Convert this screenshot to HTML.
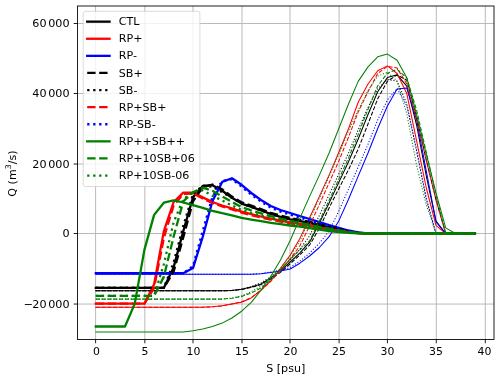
<!DOCTYPE html>
<html lang="en"><head><meta charset="utf-8"><title>Q vs S</title>
<style>html,body{margin:0;padding:0;background:#fff}body{width:500px;height:379px;overflow:hidden}svg{display:block}</style>
</head><body>
<svg width="500" height="379" viewBox="0 0 500 379">
<rect x="0" y="0" width="500" height="379" fill="#fff"/>
<g stroke="#b0b0b0" stroke-width="0.88">
<line x1="95.60" y1="6.0" x2="95.60" y2="339.45"/>
<line x1="144.85" y1="6.0" x2="144.85" y2="339.45"/>
<line x1="193.00" y1="6.0" x2="193.00" y2="339.45"/>
<line x1="242.00" y1="6.0" x2="242.00" y2="339.45"/>
<line x1="290.00" y1="6.0" x2="290.00" y2="339.45"/>
<line x1="339.10" y1="6.0" x2="339.10" y2="339.45"/>
<line x1="387.40" y1="6.0" x2="387.40" y2="339.45"/>
<line x1="436.30" y1="6.0" x2="436.30" y2="339.45"/>
<line x1="485.30" y1="6.0" x2="485.30" y2="339.45"/>
<line x1="77.5" y1="304.05" x2="494.0" y2="304.05"/>
<line x1="77.5" y1="233.50" x2="494.0" y2="233.50"/>
<line x1="77.5" y1="164.05" x2="494.0" y2="164.05"/>
<line x1="77.5" y1="93.50" x2="494.0" y2="93.50"/>
<line x1="77.5" y1="23.50" x2="494.0" y2="23.50"/>
</g>
<clipPath id="c"><rect x="77.5" y="6.0" width="416.5" height="333.45"/></clipPath>
<g clip-path="url(#c)">
<polyline points="95.8,287.9 105.5,287.9 115.2,287.9 125.0,287.9 134.7,287.9 144.4,287.9 154.1,287.9 163.8,287.9 173.6,267.4 183.3,231.1 193.0,197.2 202.7,185.9 212.4,185.2 222.2,190.8 231.9,197.8 241.6,203.6 251.3,206.9 261.0,210.4 270.8,214.0 280.5,216.9 290.2,219.3 299.9,221.2 309.6,223.0 319.4,225.3 329.1,227.6 338.8,229.7 348.5,231.6 358.2,232.9 368.0,233.5 377.7,233.5 387.4,233.5 397.1,233.5 406.8,233.5 416.6,233.5 426.3,233.5 436.0,233.5 445.7,233.5 455.4,233.5 465.2,233.5 474.9,233.5" fill="none" stroke="#000000" stroke-width="2.3" stroke-linejoin="round" stroke-linecap="square"/>
<polyline points="95.8,290.7 105.5,290.7 115.2,290.7 125.0,290.7 134.7,290.7 144.4,290.7 154.1,290.7 163.8,290.7 173.6,290.7 183.3,290.7 193.0,290.7 202.7,290.7 212.4,290.7 222.2,290.7 231.9,290.4 241.6,289.3 251.3,287.1 261.0,284.0 270.8,277.9 280.5,270.9 290.2,262.0 299.9,252.8 309.6,242.2 319.4,223.0 329.1,203.1 338.8,182.4 348.5,161.8 358.2,139.0 368.0,114.5 377.7,91.8 387.4,77.6 397.1,74.8 406.8,86.2 416.6,125.0 426.3,175.8 436.0,221.2 445.7,233.5 455.4,233.5 465.2,233.5 474.9,233.5" fill="none" stroke="#000000" stroke-width="1.05" stroke-linejoin="round" stroke-linecap="square"/>
<polyline points="95.8,303.7 105.5,303.7 115.2,303.7 125.0,303.7 134.7,303.7 144.4,303.7 154.1,284.2 163.8,231.4 173.6,202.0 183.3,192.6 193.0,192.6 202.7,197.4 212.4,202.0 222.2,205.5 231.9,208.3 241.6,211.6 251.3,214.2 261.0,216.5 270.8,218.6 280.5,220.6 290.2,222.3 299.9,223.9 309.6,225.8 319.4,227.6 329.1,229.1 338.8,230.7 348.5,232.1 358.2,233.1 368.0,233.5 377.7,233.5 387.4,233.5 397.1,233.5 406.8,233.5 416.6,233.5 426.3,233.5 436.0,233.5 445.7,233.5 455.4,233.5 465.2,233.5 474.9,233.5" fill="none" stroke="#ff0000" stroke-width="2.3" stroke-linejoin="round" stroke-linecap="square"/>
<polyline points="95.8,307.2 105.5,307.2 115.2,307.2 125.0,307.2 134.7,307.2 144.4,307.2 154.1,307.2 163.8,307.2 173.6,307.2 183.3,307.2 193.0,307.2 202.7,307.2 212.4,306.8 222.2,305.8 231.9,304.0 241.6,302.3 251.3,297.9 261.0,290.2 270.8,280.8 280.5,268.3 290.2,255.0 299.9,238.4 309.6,217.8 319.4,196.4 329.1,175.1 338.8,152.3 348.5,128.8 358.2,102.2 368.0,84.0 377.7,70.8 387.4,65.9 397.1,73.5 406.8,93.6 416.6,140.8 426.3,188.0 436.0,225.4 445.7,233.5 455.4,233.5 465.2,233.5 474.9,233.5" fill="none" stroke="#ff0000" stroke-width="1.05" stroke-linejoin="round" stroke-linecap="square"/>
<polyline points="95.8,273.2 105.5,273.2 115.2,273.2 125.0,273.2 134.7,273.2 144.4,273.2 154.1,273.2 163.8,273.2 173.6,273.2 183.3,273.2 193.0,268.1 202.7,237.0 212.4,201.3 222.2,181.9 231.9,178.2 241.6,184.8 251.3,193.0 261.0,200.0 270.8,206.0 280.5,210.0 290.2,213.0 299.9,216.0 309.6,219.0 319.4,222.0 329.1,225.0 338.8,227.9 348.5,230.5 358.2,232.4 368.0,233.5 377.7,233.5 387.4,233.5 397.1,233.5 406.8,233.5 416.6,233.5 426.3,233.5 436.0,233.5 445.7,233.5 455.4,233.5 465.2,233.5 474.9,233.5" fill="none" stroke="#0000ff" stroke-width="2.3" stroke-linejoin="round" stroke-linecap="square"/>
<polyline points="95.8,274.3 105.5,274.3 115.2,274.3 125.0,274.3 134.7,274.3 144.4,274.3 154.1,274.3 163.8,274.3 173.6,274.3 183.3,274.3 193.0,274.3 202.7,274.3 212.4,274.3 222.2,274.3 231.9,274.3 241.6,274.3 251.3,274.3 261.0,273.8 270.8,272.4 280.5,270.9 290.2,269.0 299.9,263.2 309.6,256.0 319.4,247.5 329.1,236.7 338.8,220.9 348.5,199.2 358.2,176.1 368.0,153.0 377.7,128.5 387.4,106.0 397.1,89.0 406.8,88.0 416.6,119.8 426.3,171.2 436.0,221.9 445.7,233.5 455.4,233.5 465.2,233.5 474.9,233.5" fill="none" stroke="#0000ff" stroke-width="1.05" stroke-linejoin="round" stroke-linecap="square"/>
<polyline points="95.8,287.9 105.5,287.9 115.2,287.9 125.0,287.9 134.7,287.9 144.4,287.9 154.1,287.9 163.8,287.9 173.6,271.6 183.3,237.3 193.0,201.3 202.7,187.3 212.4,184.5 222.2,189.4 231.9,196.6 241.6,202.3 251.3,205.7 261.0,209.2 270.8,212.8 280.5,215.7 290.2,218.1 299.9,220.0 309.6,221.8 319.4,224.1 329.1,226.3 338.8,228.4 348.5,231.6 358.2,232.9 368.0,233.5 377.7,233.5 387.4,233.5 397.1,233.5 406.8,233.5 416.6,233.5 426.3,233.5 436.0,233.5 445.7,233.5 455.4,233.5 465.2,233.5 474.9,233.5" fill="none" stroke="#000000" stroke-width="2.3" stroke-linejoin="round" stroke-linecap="butt" stroke-dasharray="8.36 3.62"/>
<polyline points="95.8,290.7 105.5,290.7 115.2,290.7 125.0,290.7 134.7,290.7 144.4,290.7 154.1,290.7 163.8,290.7 173.6,290.7 183.3,290.7 193.0,290.7 202.7,290.7 212.4,290.7 222.2,290.7 231.9,290.6 241.6,289.5 251.3,287.4 261.0,284.6 270.8,279.0 280.5,272.4 290.2,263.9 299.9,254.8 309.6,245.1 319.4,228.2 329.1,207.9 338.8,188.7 348.5,169.8 358.2,149.1 368.0,124.0 377.7,98.8 387.4,81.2 397.1,74.9 406.8,80.2 416.6,117.0 426.3,160.0 436.0,199.6 445.7,233.5 455.4,233.5 465.2,233.5 474.9,233.5" fill="none" stroke="#000000" stroke-width="1.05" stroke-linejoin="round" stroke-linecap="butt" stroke-dasharray="4.06 1.76"/>
<polyline points="95.8,287.9 105.5,287.9 115.2,287.9 125.0,287.9 134.7,287.9 144.4,287.9 154.1,287.9 163.8,287.9 173.6,262.6 183.3,225.8 193.0,194.3 202.7,185.6 212.4,186.6 222.2,192.2 231.9,197.8 241.6,203.6 251.3,206.9 261.0,210.4 270.8,214.0 280.5,216.9 290.2,219.3 299.9,221.2 309.6,223.0 319.4,225.3 329.1,227.6 338.8,229.7 348.5,231.6 358.2,232.9 368.0,233.5 377.7,233.5 387.4,233.5 397.1,233.5 406.8,233.5 416.6,233.5 426.3,233.5 436.0,233.5 445.7,233.5 455.4,233.5 465.2,233.5 474.9,233.5" fill="none" stroke="#000000" stroke-width="2.3" stroke-linejoin="round" stroke-linecap="butt" stroke-dasharray="2.26 3.73"/>
<polyline points="95.8,290.7 105.5,290.7 115.2,290.7 125.0,290.7 134.7,290.7 144.4,290.7 154.1,290.7 163.8,290.7 173.6,290.7 183.3,290.7 193.0,290.7 202.7,290.7 212.4,290.7 222.2,290.7 231.9,290.4 241.6,289.1 251.3,286.5 261.0,283.0 270.8,276.7 280.5,269.2 290.2,259.8 299.9,249.2 309.6,235.9 319.4,215.3 329.1,194.7 338.8,174.0 348.5,153.0 358.2,129.9 368.0,107.5 377.7,88.9 387.4,79.5 397.1,81.2 406.8,104.0 416.6,151.2 426.3,199.2 436.0,233.5 445.7,233.5 455.4,233.5 465.2,233.5 474.9,233.5" fill="none" stroke="#000000" stroke-width="1.05" stroke-linejoin="round" stroke-linecap="butt" stroke-dasharray="1.10 1.81"/>
<polyline points="95.8,303.7 105.5,303.7 115.2,303.7 125.0,303.7 134.7,303.7 144.4,303.7 154.1,287.8 163.8,238.1 173.6,205.5 183.3,193.9 193.0,193.5 202.7,198.4 212.4,203.0 222.2,206.5 231.9,209.3 241.6,212.6 251.3,215.2 261.0,217.5 270.8,219.6 280.5,221.5 290.2,223.3 299.9,224.9 309.6,225.8 319.4,227.6 329.1,229.1 338.8,230.7 348.5,232.1 358.2,233.1 368.0,233.5 377.7,233.5 387.4,233.5 397.1,233.5 406.8,233.5 416.6,233.5 426.3,233.5 436.0,233.5 445.7,233.5 455.4,233.5 465.2,233.5 474.9,233.5" fill="none" stroke="#ff0000" stroke-width="2.3" stroke-linejoin="round" stroke-linecap="butt" stroke-dasharray="8.36 3.62"/>
<polyline points="95.8,307.2 105.5,307.2 115.2,307.2 125.0,307.2 134.7,307.2 144.4,307.2 154.1,307.2 163.8,307.2 173.6,307.2 183.3,307.2 193.0,307.2 202.7,307.2 212.4,306.8 222.2,305.9 231.9,303.9 241.6,301.8 251.3,297.6 261.0,290.2 270.8,281.4 280.5,270.2 290.2,258.7 299.9,245.8 309.6,225.8 319.4,204.4 329.1,182.8 338.8,161.1 348.5,137.2 358.2,112.0 368.0,91.8 377.7,73.5 387.4,66.3 397.1,68.1 406.8,83.9 416.6,118.7 426.3,160.7 436.0,199.9 445.7,233.5 455.4,233.5 465.2,233.5 474.9,233.5" fill="none" stroke="#ff0000" stroke-width="1.05" stroke-linejoin="round" stroke-linecap="butt" stroke-dasharray="4.06 1.76"/>
<polyline points="95.8,273.2 105.5,273.2 115.2,273.2 125.0,273.2 134.7,273.2 144.4,273.2 154.1,273.2 163.8,273.2 173.6,273.2 183.3,273.2 193.0,266.1 202.7,231.1 212.4,196.8 222.2,181.0 231.9,179.2 241.6,186.6 251.3,194.7 261.0,201.7 270.8,207.6 280.5,211.6 290.2,214.6 299.9,217.6 309.6,220.6 319.4,223.3 329.1,226.2 338.8,228.9 348.5,231.2 358.2,232.8 368.0,233.5 377.7,233.5 387.4,233.5 397.1,233.5 406.8,233.5 416.6,233.5 426.3,233.5 436.0,233.5 445.7,233.5 455.4,233.5 465.2,233.5 474.9,233.5" fill="none" stroke="#0000ff" stroke-width="2.3" stroke-linejoin="round" stroke-linecap="butt" stroke-dasharray="2.26 3.73"/>
<polyline points="95.8,274.3 105.5,274.3 115.2,274.3 125.0,274.3 134.7,274.3 144.4,274.3 154.1,274.3 163.8,274.3 173.6,274.3 183.3,274.3 193.0,274.3 202.7,274.3 212.4,274.3 222.2,274.3 231.9,274.3 241.6,274.3 251.3,274.3 261.0,273.6 270.8,272.0 280.5,270.2 290.2,267.4 299.9,261.1 309.6,253.1 319.4,243.2 329.1,231.1 338.8,211.1 348.5,189.1 358.2,167.0 368.0,144.2 377.7,119.8 387.4,100.0 397.1,88.6 406.8,105.8 416.6,149.5 426.3,198.5 436.0,233.5 445.7,233.5 455.4,233.5 465.2,233.5 474.9,233.5" fill="none" stroke="#0000ff" stroke-width="1.05" stroke-linejoin="round" stroke-linecap="butt" stroke-dasharray="1.10 1.81"/>
<polyline points="95.8,326.5 105.5,326.5 115.2,326.5 125.0,326.5 134.7,303.9 144.4,249.9 154.1,214.9 163.8,202.7 173.6,200.4 183.3,202.5 193.0,205.2 202.7,207.9 212.4,210.8 222.2,213.2 231.9,215.3 241.6,217.8 251.3,219.6 261.0,221.2 270.8,222.8 280.5,224.2 290.2,225.5 299.9,226.7 309.6,228.2 319.4,229.7 329.1,231.0 338.8,232.1 348.5,232.9 358.2,233.3 368.0,233.5 377.7,233.5 387.4,233.5 397.1,233.5 406.8,233.5 416.6,233.5 426.3,233.5 436.0,233.5 445.7,233.5 455.4,233.5 465.2,233.5 474.9,233.5" fill="none" stroke="#008000" stroke-width="2.3" stroke-linejoin="round" stroke-linecap="square"/>
<polyline points="95.8,332.0 105.5,332.0 115.2,332.0 125.0,332.0 134.7,332.0 144.4,332.0 154.1,332.0 163.8,332.0 173.6,332.0 183.3,332.0 193.0,330.8 202.7,329.0 212.4,326.6 222.2,323.1 231.9,318.0 241.6,311.2 251.3,302.4 261.0,290.2 270.8,276.2 280.5,260.1 290.2,240.5 299.9,218.1 309.6,196.4 319.4,175.1 329.1,153.0 338.8,128.5 348.5,104.0 358.2,81.4 368.0,66.9 377.7,56.8 387.4,54.1 397.1,60.2 406.8,77.8 416.6,114.5 426.3,154.4 436.0,192.9 445.7,227.9 455.4,233.5 465.2,233.5 474.9,233.5" fill="none" stroke="#008000" stroke-width="1.05" stroke-linejoin="round" stroke-linecap="square"/>
<polyline points="95.8,295.8 105.5,295.8 115.2,295.8 125.0,295.8 134.7,295.8 144.4,295.8 154.1,295.8 163.8,276.9 173.6,236.7 183.3,201.3 193.0,192.2 202.7,187.7 212.4,190.8 222.2,196.4 231.9,202.0 241.6,207.1 251.3,210.4 261.0,213.4 270.8,216.2 280.5,218.6 290.2,220.9 299.9,223.0 309.6,224.9 319.4,226.8 329.1,228.6 338.8,230.3 348.5,231.9 358.2,233.0 368.0,233.5 377.7,233.5 387.4,233.5 397.1,233.5 406.8,233.5 416.6,233.5 426.3,233.5 436.0,233.5 445.7,233.5 455.4,233.5 465.2,233.5 474.9,233.5" fill="none" stroke="#008000" stroke-width="2.3" stroke-linejoin="round" stroke-linecap="butt" stroke-dasharray="8.36 3.62"/>
<polyline points="95.8,299.1 105.5,299.1 115.2,299.1 125.0,299.1 134.7,299.1 144.4,299.1 154.1,299.1 163.8,299.1 173.6,299.1 183.3,299.1 193.0,299.1 202.7,299.1 212.4,299.1 222.2,299.1 231.9,298.2 241.6,296.5 251.3,293.0 261.0,288.0 270.8,280.0 280.5,269.9 290.2,259.0 299.9,249.9 309.6,240.8 319.4,220.9 329.1,200.2 338.8,179.2 348.5,157.9 358.2,134.4 368.0,109.2 377.7,85.8 387.4,73.2 397.1,69.3 406.8,77.8 416.6,110.0 426.3,152.3 436.0,195.0 445.7,233.5 455.4,233.5 465.2,233.5 474.9,233.5" fill="none" stroke="#008000" stroke-width="1.05" stroke-linejoin="round" stroke-linecap="butt" stroke-dasharray="4.06 1.76"/>
<polyline points="95.8,295.8 105.5,295.8 115.2,295.8 125.0,295.8 134.7,295.8 144.4,295.8 154.1,295.8 163.8,264.3 173.6,222.3 183.3,199.2 193.0,192.2 202.7,190.4 212.4,195.7 222.2,200.6 231.9,205.5 241.6,209.9 251.3,213.0 261.0,215.7 270.8,218.1 280.5,220.2 290.2,222.1 299.9,224.1 309.6,225.8 319.4,227.6 329.1,229.1 338.8,230.7 348.5,232.1 358.2,233.1 368.0,233.5 377.7,233.5 387.4,233.5 397.1,233.5 406.8,233.5 416.6,233.5 426.3,233.5 436.0,233.5 445.7,233.5 455.4,233.5 465.2,233.5 474.9,233.5" fill="none" stroke="#008000" stroke-width="2.3" stroke-linejoin="round" stroke-linecap="butt" stroke-dasharray="2.26 3.73"/>
<polyline points="95.8,299.1 105.5,299.1 115.2,299.1 125.0,299.1 134.7,299.1 144.4,299.1 154.1,299.1 163.8,299.1 173.6,299.1 183.3,299.1 193.0,299.1 202.7,299.1 212.4,299.1 222.2,299.1 231.9,298.1 241.6,296.0 251.3,291.6 261.0,286.0 270.8,277.9 280.5,268.1 290.2,255.9 299.9,241.2 309.6,219.8 319.4,198.2 329.1,176.4 338.8,154.1 348.5,130.9 358.2,110.3 368.0,90.7 377.7,76.0 387.4,72.3 397.1,81.2 406.8,113.8 416.6,165.2 426.3,204.8 436.0,233.5 445.7,233.5 455.4,233.5 465.2,233.5 474.9,233.5" fill="none" stroke="#008000" stroke-width="1.05" stroke-linejoin="round" stroke-linecap="butt" stroke-dasharray="1.10 1.81"/>
</g>
<g stroke="#000" stroke-width="0.88">
<line x1="95.60" y1="339.45" x2="95.60" y2="343.28999999999996"/>
<line x1="144.85" y1="339.45" x2="144.85" y2="343.28999999999996"/>
<line x1="193.00" y1="339.45" x2="193.00" y2="343.28999999999996"/>
<line x1="242.00" y1="339.45" x2="242.00" y2="343.28999999999996"/>
<line x1="290.00" y1="339.45" x2="290.00" y2="343.28999999999996"/>
<line x1="339.10" y1="339.45" x2="339.10" y2="343.28999999999996"/>
<line x1="387.40" y1="339.45" x2="387.40" y2="343.28999999999996"/>
<line x1="436.30" y1="339.45" x2="436.30" y2="343.28999999999996"/>
<line x1="485.30" y1="339.45" x2="485.30" y2="343.28999999999996"/>
<line x1="73.66" y1="304.05" x2="77.5" y2="304.05"/>
<line x1="73.66" y1="233.50" x2="77.5" y2="233.50"/>
<line x1="73.66" y1="164.05" x2="77.5" y2="164.05"/>
<line x1="73.66" y1="93.50" x2="77.5" y2="93.50"/>
<line x1="73.66" y1="23.50" x2="77.5" y2="23.50"/>
</g>
<rect x="77.5" y="6.0" width="416.5" height="333.45" fill="none" stroke="#000" stroke-width="0.88"/>
<g font-family="'DejaVu Sans','Liberation Sans',sans-serif" font-size="11.1" fill="#000">
<text x="96.50" y="355.43" text-anchor="middle" font-size="10.9">0</text>
<text x="145.00" y="355.43" text-anchor="middle" font-size="10.9">5</text>
<text x="193.50" y="355.43" text-anchor="middle" font-size="10.9">10</text>
<text x="242.00" y="355.43" text-anchor="middle" font-size="10.9">15</text>
<text x="290.50" y="355.43" text-anchor="middle" font-size="10.9">20</text>
<text x="339.00" y="355.43" text-anchor="middle" font-size="10.9">25</text>
<text x="387.50" y="355.43" text-anchor="middle" font-size="10.9">30</text>
<text x="436.00" y="355.43" text-anchor="middle" font-size="10.9">35</text>
<text x="484.50" y="355.43" text-anchor="middle" font-size="10.9">40</text>
<text x="69.50" y="307.90" text-anchor="end" font-size="11.2">−<tspan dx="-0.8">20 </tspan><tspan dx="-0.7">000</tspan></text>
<text x="69.50" y="237.35" text-anchor="end" font-size="11.2">0</text>
<text x="69.50" y="167.90" text-anchor="end" font-size="11.2">20 <tspan dx="-0.7">000</tspan></text>
<text x="69.50" y="97.35" text-anchor="end" font-size="11.2">40 <tspan dx="-0.7">000</tspan></text>
<text x="69.50" y="27.35" text-anchor="end" font-size="11.2">60 <tspan dx="-0.7">000</tspan></text>
<text x="285.75" y="372.2" text-anchor="middle">S [psu]</text>
<text transform="translate(16.3,173.53) rotate(-90)" text-anchor="middle">Q (m<tspan font-size="7.8" dy="-5.3">3</tspan><tspan dy="5.3">/s)</tspan></text>
<rect x="83.2" y="11.3" width="116.7" height="175.2" rx="2.2" ry="2.2" fill="#fff" fill-opacity="0.8" stroke="#ccc" stroke-opacity="0.8" stroke-width="0.88"/>
<line x1="87.20" y1="21.65" x2="109.54" y2="21.65" stroke="#000000" stroke-width="2.3" stroke-linecap="square"/>
<text x="118.84" y="25.20">CTL</text>
<line x1="87.20" y1="38.75" x2="109.54" y2="38.75" stroke="#ff0000" stroke-width="2.3" stroke-linecap="square"/>
<text x="118.84" y="42.30">RP+</text>
<line x1="87.20" y1="55.85" x2="109.54" y2="55.85" stroke="#0000ff" stroke-width="2.3" stroke-linecap="square"/>
<text x="118.84" y="59.40">RP-</text>
<line x1="87.20" y1="72.95" x2="109.54" y2="72.95" stroke="#000000" stroke-width="2.3" stroke-linecap="butt" stroke-dasharray="8.36 3.62"/>
<text x="118.84" y="76.50">SB+</text>
<line x1="87.20" y1="90.05" x2="109.54" y2="90.05" stroke="#000000" stroke-width="2.3" stroke-linecap="butt" stroke-dasharray="2.26 3.73"/>
<text x="118.84" y="93.60">SB-</text>
<line x1="87.20" y1="107.15" x2="109.54" y2="107.15" stroke="#ff0000" stroke-width="2.3" stroke-linecap="butt" stroke-dasharray="8.36 3.62"/>
<text x="118.84" y="110.70">RP+SB+</text>
<line x1="87.20" y1="124.25" x2="109.54" y2="124.25" stroke="#0000ff" stroke-width="2.3" stroke-linecap="butt" stroke-dasharray="2.26 3.73"/>
<text x="118.84" y="127.80">RP-SB-</text>
<line x1="87.20" y1="141.35" x2="109.54" y2="141.35" stroke="#008000" stroke-width="2.3" stroke-linecap="square"/>
<text x="118.84" y="144.90">RP++SB++</text>
<line x1="87.20" y1="158.45" x2="109.54" y2="158.45" stroke="#008000" stroke-width="2.3" stroke-linecap="butt" stroke-dasharray="8.36 3.62"/>
<text x="118.84" y="162.00">RP+10SB+06</text>
<line x1="87.20" y1="175.55" x2="109.54" y2="175.55" stroke="#008000" stroke-width="2.3" stroke-linecap="butt" stroke-dasharray="2.26 3.73"/>
<text x="118.84" y="179.10">RP+10SB-06</text>
</g>
</svg>
</body></html>
